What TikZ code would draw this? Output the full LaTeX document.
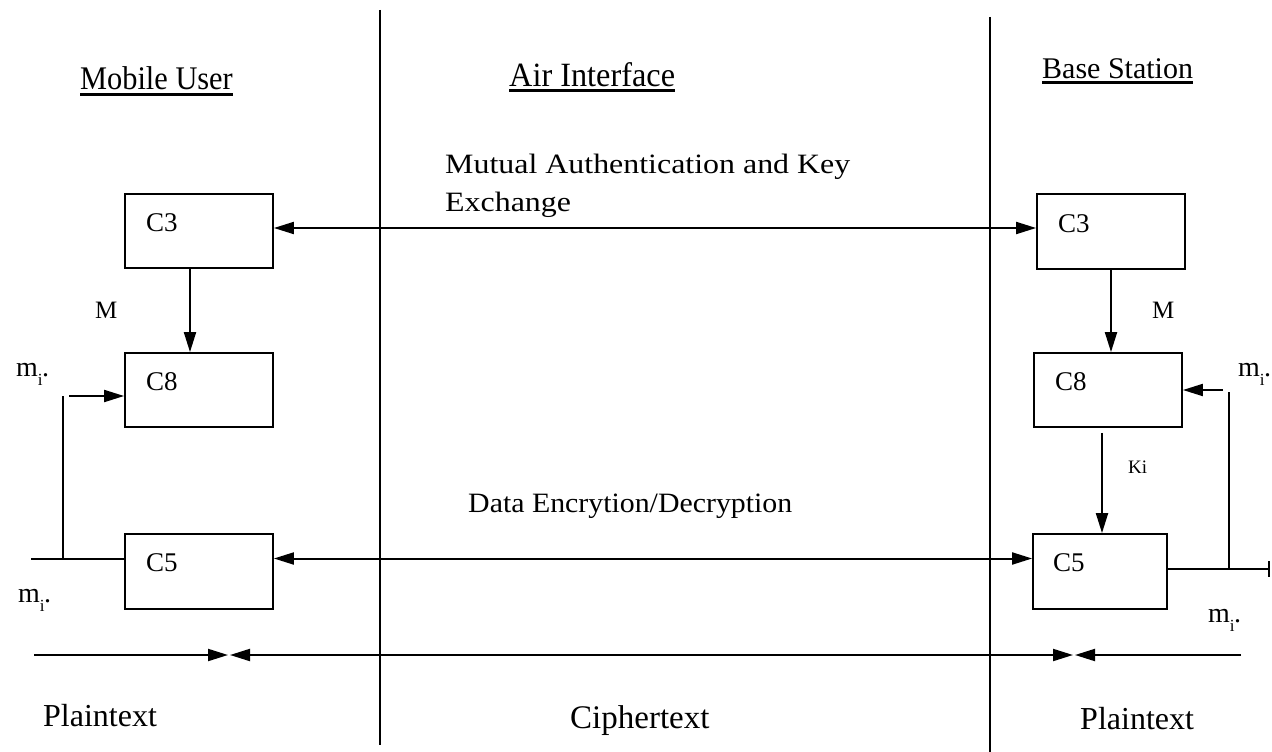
\documentclass[tikz,border=0pt]{standalone}
\usepackage{fontspec}
\usepackage{graphicx}
\setmainfont{Liberation Serif}
\usetikzlibrary{arrows.meta}
\newcommand{\fsz}[1]{\fontsize{#1}{#1}\selectfont}
% heading text with a heavy rule set #1 below the baseline, #2 thick
\newcommand{\headrule}[3]{\vtop{\hbox{#3}\kern#1\hrule height #2}}
% message symbol m with subscript i, followed by a full stop
\newcommand{\msym}{m\raisebox{-9pt}{\fsz{17}i}\kern-0.5pt.}
\begin{document}
\begin{tikzpicture}[x=1pt,y=-1pt,
  box/.style={draw, line width=1.8pt, minimum width=148pt, minimum height=74pt, inner sep=0pt},
  txt/.style={anchor=base west, inner sep=0pt, font=\fsz{26}},
  big/.style={txt, font=\fsz{32}},
  msg/.style={txt, font=\fsz{28}},
  wire/.style={line width=2pt},
  tip/.style={wire, -{Triangle[length=20pt,width=12pt]}},
  dtip/.style={wire, {Triangle[length=20pt,width=12pt]}-{Triangle[length=20pt,width=12pt]}},
  endbar/.style={wire, -{Bar[width=16pt,line width=2pt]}}
]
\useasboundingbox (0,0) rectangle (1272,752);

% column separators
\coordinate (sepLtop) at (380,10);
\coordinate (sepLbot) at (380,745);
\coordinate (sepRtop) at (990,17);
\coordinate (sepRbot) at (990,752);
\draw[wire] (sepLtop) -- (sepLbot);
\draw[wire] (sepRtop) -- (sepRbot);

% column headings
\node[txt, font=\fsz{33}] (hmobile) at (80,89)
  {\scalebox{0.92}[1]{\headrule{3.5pt}{3pt}{Mobile User}}};
\node[txt, font=\fsz{34}] (hair) at (509,87)
  {\scalebox{0.95}[1]{\headrule{2pt}{2.5pt}{Air Interface}}};
\node[txt, font=\fsz{30}] (hbase) at (1042,78)
  {\headrule{3pt}{3pt}{Base Station}};

% mobile user side
\node[box] (c3l) at (199,231) {};
\node[box] (c8l) at (199,390) {};
\node[box, minimum height=75pt] (c5l) at (199,571.5) {};
\node[txt, font=\fsz{27}] (c3ltxt) at (146,231) {C3};
\node[txt, font=\fsz{27}] (c8ltxt) at (146,390) {C8};
\node[txt, font=\fsz{27}] (c5ltxt) at (146,571) {C5};
\node[txt, font=\fsz{25}] (ml) at (95,318) {M};
\node[msg] (mil1) at (16,376) {\msym};
\node[msg] (mil2) at (18,602) {\msym};

% base station side
\node[box, minimum height=75pt] (c3r) at (1111,231.5) {};
\node[box] (c8r) at (1108,390) {};
\node[box, minimum width=134pt, minimum height=75pt] (c5r) at (1100,571.5) {};
\node[txt, font=\fsz{27}] (c3rtxt) at (1058,232) {C3};
\node[txt, font=\fsz{27}] (c8rtxt) at (1055,390) {C8};
\node[txt, font=\fsz{27}] (c5rtxt) at (1053,571) {C5};
\node[txt, font=\fsz{25}] (mr) at (1152,318) {M};
\node[txt, font=\fsz{19}] (ki) at (1128,473) {Ki};
\node[msg] (mir1) at (1238,376) {\msym};
\node[msg] (mir2) at (1208,622) {\msym};

% air interface exchanges
\node[txt, font=\fsz{28}] (auth1) at (445,173) {\scalebox{1.14}[1]{Mutual Authentication and Key}};
\node[txt, font=\fsz{28}] (auth2) at (445,211) {\scalebox{1.14}[1]{Exchange}};
\node[txt, font=\fsz{28}] (enc) at (468,512) {\scalebox{1.066}[1]{Data Encrytion/Decryption}};
\draw[dtip] ([yshift=3pt]c3l.east) -- ([yshift=3pt]c3l.east -| c3r.west);
\draw[dtip] ([yshift=13pt]c5l.east) -- ([yshift=13pt]c5l.east -| c5r.west);

% key derivation chains
\draw[tip] ([xshift=-9pt]c3l.south) -- ([xshift=-9pt]c8l.north);
\draw[tip] (c3r.south) -- (c3r.south |- c8r.north);
\draw[tip] ([shift={(2,5)}]c5r.north |- c8r.south) -- ([xshift=2pt]c5r.north);

% plaintext paths, mobile user
\coordinate (inl) at (31,559);
\coordinate (tapl) at (63,559);
\coordinate (tapltop) at (63,396);
\coordinate (feedl) at (69,396);
\draw[wire] (inl) -- (inl -| c5l.west);
\draw[wire] (tapl) -- (tapltop);
\draw[tip] (feedl) -- (feedl -| c8l.west);

% plaintext paths, base station
\coordinate (outr) at (1270,569);
\coordinate (tapr) at (1229,569);
\coordinate (taprtop) at (1229,392);
\coordinate (feedr) at (1223,390);
\draw[endbar] (outr -| c5r.east) -- (outr);
\draw[wire] (tapr) -- (taprtop);
\draw[tip] (feedr) -- (feedr -| c8r.east);

% extent of plaintext and ciphertext
\coordinate (spanL) at (34,655);
\coordinate (spanLa) at (228,655);
\coordinate (spanLb) at (230,655);
\coordinate (spanRa) at (1073,655);
\coordinate (spanRb) at (1075,655);
\coordinate (spanR) at (1241,655);
\draw[tip] (spanL) -- (spanLa);
\draw[dtip] (spanLb) -- (spanRa);
\draw[tip] (spanR) -- (spanRb);
\node[big] (ptl) at (43,726) {Plaintext};
\node[big, font=\fsz{33}] (ct) at (570,728) {Ciphertext};
\node[big] (ptr) at (1080,729) {Plaintext};
\end{tikzpicture}
\end{document}
